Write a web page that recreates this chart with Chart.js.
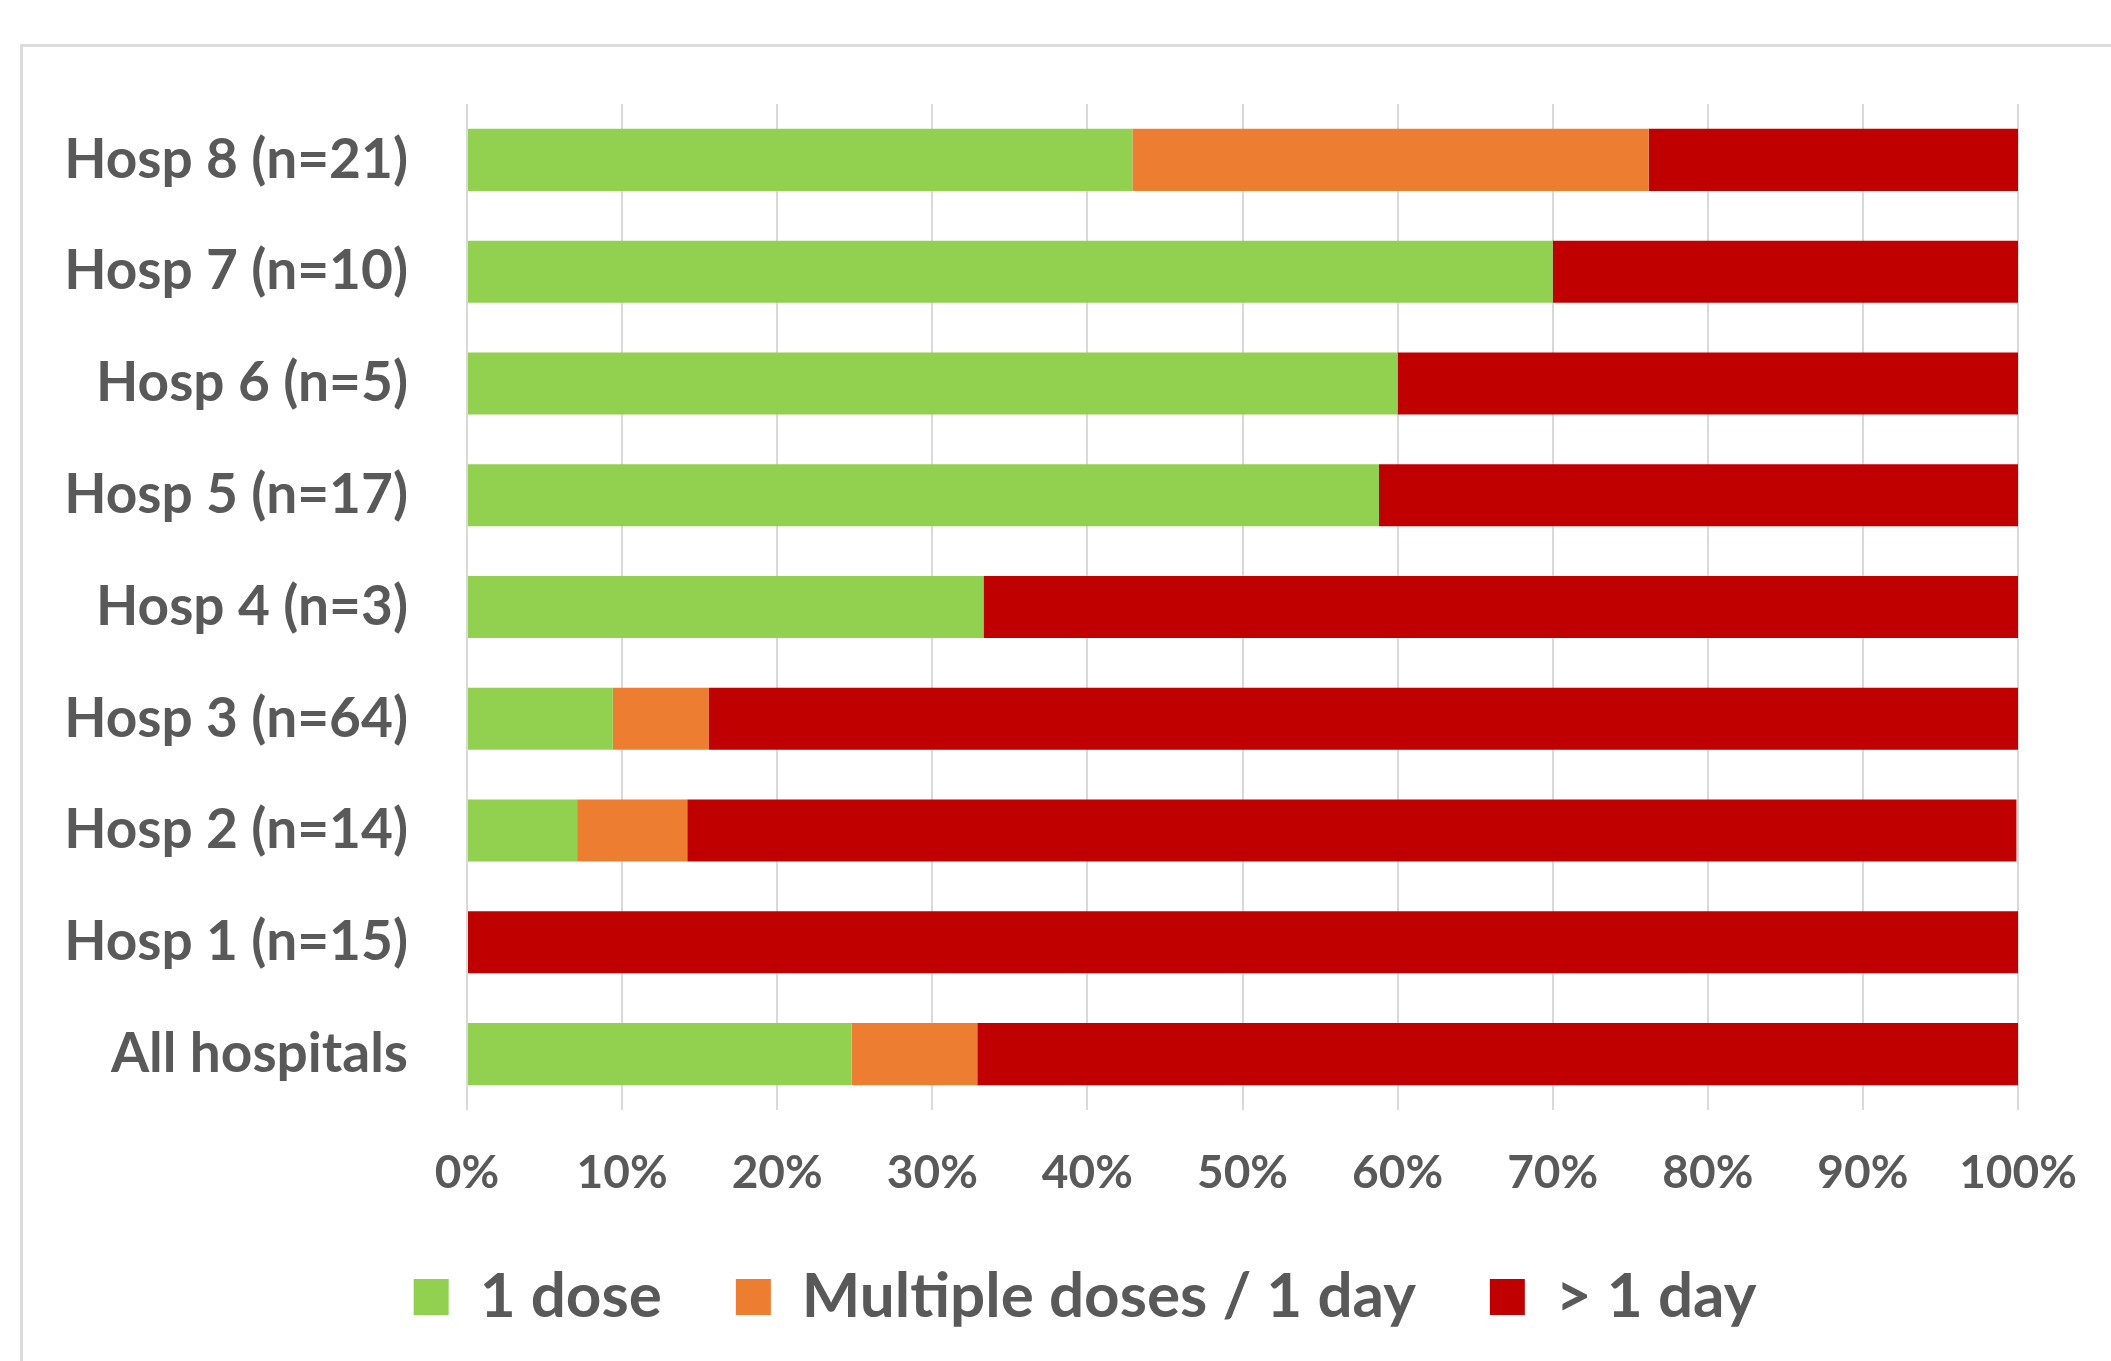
<!DOCTYPE html>
<html>
<head>
<meta charset="utf-8">
<script src="https://cdn.jsdelivr.net/npm/chart.js@4/dist/chart.umd.min.js"></script>
<style>
  html, body { margin: 0; padding: 0; background: #fff; overflow: hidden; }
  #frame {
    position: absolute; left: 20px; top: 44px; right: -10px; bottom: -10px;
    border-top: 3px solid #dcdcdc; border-left: 3px solid #dcdcdc;
  }
  #wrap { position: absolute; left: 0; top: 0; width: 2150px; height: 1361px; }
</style>
</head>
<body>
<div id="frame"></div>
<div id="wrap"><canvas id="bar-chart"></canvas></div>
<script>
const hospitals = [
  'Hosp 8 (n=21)', 'Hosp 7 (n=10)', 'Hosp 6 (n=5)', 'Hosp 5 (n=17)', 'Hosp 4 (n=3)',
  'Hosp 3 (n=64)', 'Hosp 2 (n=14)', 'Hosp 1 (n=15)', 'All hospitals',
];
const oneDose = [42.9, 70, 60, 58.8, 33.3, 9.4, 7.1, 0, 24.8];
const multipleDoses = [33.3, 0, 0, 0, 0, 6.2, 7.1, 0, 8.1];
const moreThanOneDay = [23.8, 30, 40, 41.2, 66.7, 84.4, 85.7, 100, 67.1];
const xTicks = [0, 10, 20, 30, 40, 50, 60, 70, 80, 90, 100];

const textColor = '#595959';
const fontFamily = 'Lato, "Open Sans", sans-serif';

const baseDataset = {
  borderWidth: 0,
  categoryPercentage: 1,
  barPercentage: 0.555,
};

const datasets = [
  { label: '1 dose', data: oneDose, backgroundColor: '#92D050', ...baseDataset },
  { label: 'Multiple doses / 1 day', data: multipleDoses, backgroundColor: '#ED7D31', ...baseDataset },
  { label: '> 1 day', data: moreThanOneDay, backgroundColor: '#C00000', ...baseDataset },
];

new Chart(document.getElementById('bar-chart'), {
  type: 'bar',
  data: {
    labels: hospitals,
    datasets,
  },
  options: {
    indexAxis: 'y',
    responsive: true,
    maintainAspectRatio: false,
    animation: false,
    layout: {
      padding: { top: 104, left: 40, right: 20, bottom: 23 },
    },
    scales: {
      x: {
        stacked: true,
        min: 0,
        max: 100,
        afterBuildTicks: (scale) => {
          scale.ticks = xTicks.map((v) => ({ value: v }));
        },
        afterFit: (scale) => {
          scale.height = 82;
        },
        grid: {
          color: '#D9D9D9',
          lineWidth: 2,
          drawTicks: false,
        },
        border: { display: false },
        ticks: {
          padding: 36,
          color: textColor,
          font: { family: fontFamily, size: 46, weight: 'bold' },
          callback: (v) => v + '%',
        },
      },
      y: {
        stacked: true,
        afterFit: (scale) => {
          scale.width = 427;
        },
        grid: { display: false, drawTicks: false },
        border: { display: false },
        ticks: {
          padding: 59,
          color: textColor,
          font: { family: fontFamily, size: 55, weight: 'bold' },
        },
      },
      // empty right-hand gutter, keeps the legend centred like the original
      gutter: {
        type: 'category',
        position: 'right',
        labels: [''],
        afterFit: (scale) => {
          scale.width = 112;
        },
        grid: { display: false, drawTicks: false },
        border: { display: false },
        ticks: { display: false },
      },
    },
    plugins: {
      tooltip: { enabled: false },
      legend: {
        position: 'bottom',
        labels: {
          boxWidth: 35,
          boxHeight: 36,
          padding: 74,
          color: textColor,
          font: { family: fontFamily, size: 62, weight: 'bold' },
        },
      },
    },
  },
});
</script>
</body>
</html>
